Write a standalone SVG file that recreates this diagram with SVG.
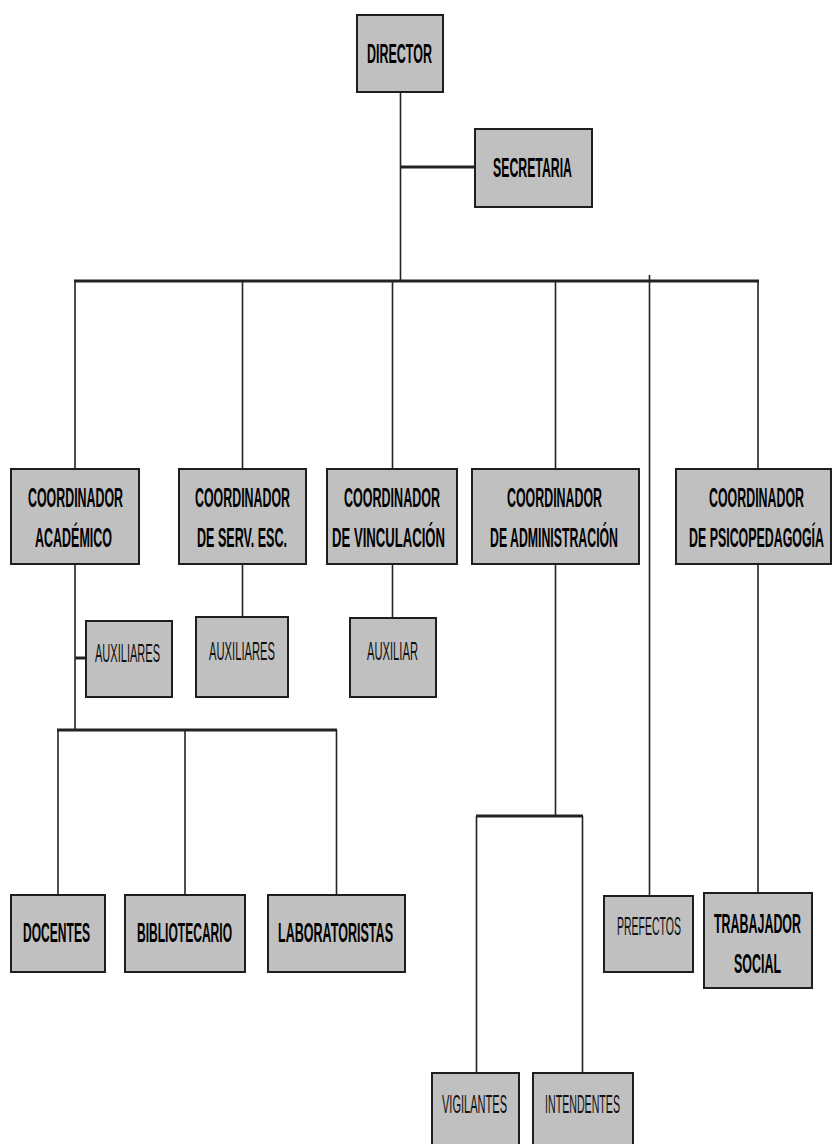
<svg xmlns="http://www.w3.org/2000/svg" width="832" height="1144" viewBox="0 0 832 1144">
<style>
.box{fill:#c0c0c0;stroke:#1e1e1e;stroke-width:2}
.t{font-family:"Liberation Sans",Arial,sans-serif;font-weight:bold;font-size:28px;fill:#000;text-anchor:middle}
.n{font-family:"Liberation Sans",Arial,sans-serif;font-size:26px;fill:#111;text-anchor:middle}
.v{stroke:#222;stroke-width:1.6;fill:none}
.h{stroke:#222;stroke-width:3;fill:none}
</style>
<rect width="832" height="1144" fill="#fff"/>
<g id="connectors">
<line class="v" x1="400.5" y1="92" x2="400.5" y2="281"/>
<line class="h" x1="400" y1="167" x2="475" y2="167"/>
<line class="h" x1="74" y1="281" x2="759" y2="281"/>
<line class="v" x1="75" y1="281" x2="75" y2="469"/>
<line class="v" x1="242.5" y1="281" x2="242.5" y2="469"/>
<line class="v" x1="392.5" y1="281" x2="392.5" y2="469"/>
<line class="v" x1="555.5" y1="281" x2="555.5" y2="469"/>
<line class="v" x1="649.5" y1="275" x2="649.5" y2="896"/>
<line class="v" x1="758" y1="281" x2="758" y2="469"/>
<line class="v" x1="75" y1="564" x2="75" y2="730"/>
<line class="h" x1="75" y1="658" x2="86" y2="658"/>
<line class="v" x1="242.5" y1="564" x2="242.5" y2="617"/>
<line class="v" x1="392.5" y1="564" x2="392.5" y2="618"/>
<line class="h" x1="57" y1="730" x2="337" y2="730"/>
<line class="v" x1="58" y1="730" x2="58" y2="895"/>
<line class="v" x1="185" y1="730" x2="185" y2="895"/>
<line class="v" x1="336.5" y1="730" x2="336.5" y2="895"/>
<line class="v" x1="555.5" y1="564" x2="555.5" y2="816"/>
<line class="h" x1="476" y1="816" x2="583" y2="816"/>
<line class="v" x1="476.5" y1="816" x2="476.5" y2="1073"/>
<line class="v" x1="582.5" y1="816" x2="582.5" y2="1073"/>
<line class="v" x1="758" y1="564" x2="758" y2="893"/>
</g>
<g id="director"><rect class="box" x="357" y="15" width="86" height="77"/><text class="t" transform="translate(399.5,63) scale(0.5,1)" textLength="130" lengthAdjust="spacingAndGlyphs" font-size="33">DIRECTOR</text></g>
<g id="secretaria"><rect class="box" x="475" y="129" width="117" height="78"/><text class="t" transform="translate(532.5,177) scale(0.5,1)" textLength="158" lengthAdjust="spacingAndGlyphs" font-size="33">SECRETARIA</text></g>
<g id="coord-academico"><rect class="box" x="11" y="469" width="128" height="95"/><text class="t" transform="translate(75.5,507) scale(0.5,1)" textLength="190" lengthAdjust="spacingAndGlyphs">COORDINADOR</text><text class="t" transform="translate(73.5,547) scale(0.5,1)" textLength="154" lengthAdjust="spacingAndGlyphs">ACADÉMICO</text></g>
<g id="coord-serv"><rect class="box" x="179" y="469" width="127" height="95"/><text class="t" transform="translate(242.5,507) scale(0.5,1)" textLength="190" lengthAdjust="spacingAndGlyphs">COORDINADOR</text><text class="t" transform="translate(242,547) scale(0.5,1)" textLength="180" lengthAdjust="spacingAndGlyphs">DE SERV. ESC.</text></g>
<g id="coord-vinculacion"><rect class="box" x="327" y="469" width="130" height="95"/><text class="t" transform="translate(392,507) scale(0.5,1)" textLength="192" lengthAdjust="spacingAndGlyphs">COORDINADOR</text><text class="t" transform="translate(388.5,547) scale(0.5,1)" textLength="226" lengthAdjust="spacingAndGlyphs">DE VINCULACIÓN</text></g>
<g id="coord-administracion"><rect class="box" x="472" y="469" width="167" height="95"/><text class="t" transform="translate(554.5,507) scale(0.5,1)" textLength="190" lengthAdjust="spacingAndGlyphs">COORDINADOR</text><text class="t" transform="translate(554,547) scale(0.5,1)" textLength="256" lengthAdjust="spacingAndGlyphs">DE ADMINISTRACIÓN</text></g>
<g id="coord-psicopedagogia"><rect class="box" x="676" y="469" width="155" height="95"/><text class="t" transform="translate(756.5,507) scale(0.5,1)" textLength="190" lengthAdjust="spacingAndGlyphs">COORDINADOR</text><text class="t" transform="translate(756.5,547) scale(0.5,1)" textLength="270" lengthAdjust="spacingAndGlyphs">DE PSICOPEDAGOGÍA</text></g>
<g id="auxiliares-academico"><rect class="box" x="86" y="621" width="86" height="76"/><text class="n" transform="translate(127.5,662) scale(0.5,1)" textLength="130" lengthAdjust="spacingAndGlyphs">AUXILIARES</text></g>
<g id="auxiliares-serv"><rect class="box" x="196" y="617" width="92" height="80"/><text class="n" transform="translate(242,660) scale(0.5,1)" textLength="132" lengthAdjust="spacingAndGlyphs">AUXILIARES</text></g>
<g id="auxiliar-vinculacion"><rect class="box" x="350" y="618" width="86" height="79"/><text class="n" transform="translate(392.5,660) scale(0.5,1)" textLength="102" lengthAdjust="spacingAndGlyphs">AUXILIAR</text></g>
<g id="docentes"><rect class="box" x="11" y="895" width="94" height="77"/><text class="t" transform="translate(56.5,942) scale(0.5,1)" textLength="134" lengthAdjust="spacingAndGlyphs" font-size="30">DOCENTES</text></g>
<g id="bibliotecario"><rect class="box" x="125" y="895" width="120" height="77"/><text class="t" transform="translate(184.5,942) scale(0.5,1)" textLength="190" lengthAdjust="spacingAndGlyphs" font-size="30">BIBLIOTECARIO</text></g>
<g id="laboratoristas"><rect class="box" x="268" y="895" width="137" height="77"/><text class="t" transform="translate(335.5,942) scale(0.5,1)" textLength="230" lengthAdjust="spacingAndGlyphs" font-size="30">LABORATORISTAS</text></g>
<g id="prefectos"><rect class="box" x="604" y="896" width="89" height="76"/><text class="n" transform="translate(649,935) scale(0.5,1)" textLength="128" lengthAdjust="spacingAndGlyphs" font-size="27">PREFECTOS</text></g>
<g id="trabajador-social"><rect class="box" x="704" y="893" width="108" height="95"/><text class="t" transform="translate(757.5,933) scale(0.5,1)" textLength="174" lengthAdjust="spacingAndGlyphs" font-size="32">TRABAJADOR</text><text class="t" transform="translate(757.5,973) scale(0.5,1)" textLength="94" lengthAdjust="spacingAndGlyphs" font-size="30">SOCIAL</text></g>
<g id="vigilantes"><rect class="box" x="432" y="1073" width="87" height="80"/><text class="n" transform="translate(474.5,1113) scale(0.5,1)" textLength="130" lengthAdjust="spacingAndGlyphs" font-size="29">VIGILANTES</text></g>
<g id="intendentes"><rect class="box" x="533" y="1073" width="100" height="80"/><text class="n" transform="translate(582.5,1113) scale(0.5,1)" textLength="150" lengthAdjust="spacingAndGlyphs" font-size="29">INTENDENTES</text></g>
</svg>
